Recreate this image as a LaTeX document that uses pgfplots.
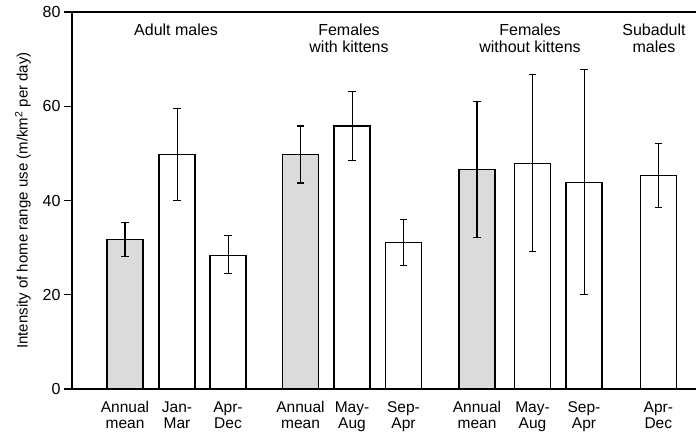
\documentclass[border=0pt]{standalone}
\usepackage{fontspec}
\setmainfont{Liberation Sans}
\usepackage{pgfplots}
\pgfplotsset{compat=1.18}

% x positions are in picture units, one unit = 1pt
\pgfplotstableread{
x     y     ep    em
125   31.8  3.5   3.6
300.5 49.7  6.1   6.0
477   46.5  14.5  14.4
}\annual
\pgfplotstableread{
x     y     ep    em
177   49.8  9.7   9.7
228   28.4  4.2   3.9
352   55.8  7.3   7.3
403.5 31.0  4.9   4.8
532.5 47.9  18.8  18.8
584   43.8  24.0  23.8
658.3 45.4  6.7   6.9
}\seasonal

\begin{document}
\begin{tikzpicture}
\useasboundingbox (-72pt,-45pt) rectangle (624pt,389pt);
\begin{axis}[
    at={(0,0)}, anchor=south west,
    scale only axis,
    width=624pt, height=377pt,
    xmin=72, xmax=696,
    ymin=0, ymax=80,
    axis lines*=left,
    axis line style={line width=1.3pt},
    ytick={0,20,40,60,80},
    y tick label style={font=\fontsize{16}{18}\selectfont},
    ytick style={line width=1.1pt, black},
    tick align=outside,
    major tick length=8pt,
    xtick={125,177,228,300.5,352,403.5,477,532.5,584,658.3},
    xticklabels={Annual\\mean, Jan-\\Mar, Apr-\\Dec, Annual\\mean, May-\\Aug, Sep-\\Apr, Annual\\mean, May-\\Aug, Sep-\\Apr, Apr-\\Dec},
    x tick label style={align=center, font=\fontsize{15.5}{16}\selectfont, yshift=-1pt},
    xtick style={draw=none},
    /pgf/number format/assume math mode=true,
    ylabel={Intensity of home range use (m/km\textsuperscript{2} per day)},
    ylabel style={font=\fontsize{15}{17}\selectfont},
    ylabel shift=5pt,
    clip=false,
]
\addplot[ybar, bar width=36pt, bar shift=0pt, fill=black!14, draw=black, line width=1.1pt,
    error bars/.cd, y dir=both, y explicit,
    error bar style={line width=1.2pt, black},
    error mark options={rotate=90, mark size=3.8pt, line width=1.2pt, black}]
    table[x=x, y=y, y error plus=ep, y error minus=em] {\annual};
\addplot[ybar, bar width=36pt, bar shift=0pt, fill=white, draw=black, line width=1.1pt,
    error bars/.cd, y dir=both, y explicit,
    error bar style={line width=1pt, black},
    error mark options={rotate=90, mark size=3.8pt, line width=1pt, black}]
    table[x=x, y=y, y error plus=ep, y error minus=em] {\seasonal};
\draw[line width=1.3pt] (axis cs:72,80) -- (axis cs:696,80);
\begin{scope}[every node/.style={anchor=north, inner sep=0pt, align=center, font=\fontsize{16}{17}\selectfont}]
\node at (axis cs:176,77.6) {Adult males};
\node at (axis cs:349,77.6) {Females\\with kittens};
\node at (axis cs:530,77.6) {Females\\without kittens};
\node at (axis cs:654,77.6) {Subadult\\males};
\end{scope}
\end{axis}
\end{tikzpicture}
\end{document}
